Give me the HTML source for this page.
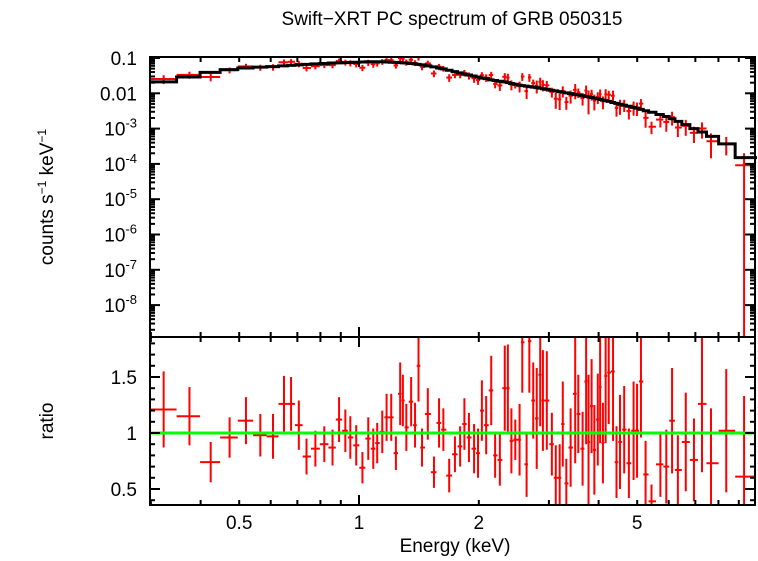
<!DOCTYPE html>
<html><head><meta charset="utf-8"><style>
html,body{margin:0;padding:0;background:#fff;}
svg text{font-family:"Liberation Sans",sans-serif;fill:#000;}
</style></head><body>
<svg id="chart" width="758" height="556" viewBox="0 0 758 556" xmlns="http://www.w3.org/2000/svg">
<text x="452" y="25" font-size="19" text-anchor="middle">Swift−XRT PC spectrum of GRB 050315</text>
<g id="topPanel"></g>
<g id="botPanel"></g>
<text transform="translate(53,197) rotate(-90)" font-size="19" text-anchor="middle">counts s<tspan font-size="12" dy="-7">−1</tspan><tspan dy="7"> keV</tspan><tspan font-size="12" dy="-7">−1</tspan></text>
<text transform="translate(53,421) rotate(-90)" font-size="19" text-anchor="middle">ratio</text>
<text x="455" y="552" font-size="19" text-anchor="middle">Energy (keV)</text>
</svg>
<script>
const energies=[0.323,0.375,0.424,0.473,0.52,0.565,0.608,0.648,0.675,0.706,0.738,0.777,0.818,0.858,0.891,0.924,0.951,0.984,1.02,1.055,1.086,1.111,1.144,1.173,1.205,1.238,1.269,1.289,1.315,1.352,1.383,1.411,1.44,1.489,1.543,1.589,1.629,1.685,1.742,1.795,1.84,1.889,1.946,1.991,2.036,2.087,2.149,2.198,2.259,2.324,2.366,2.415,2.47,2.532,2.572,2.637,2.679,2.74,2.796,2.853,2.898,2.964,3.052,3.122,3.193,3.251,3.318,3.402,3.493,3.556,3.646,3.721,3.773,3.841,3.902,3.981,4.035,4.101,4.166,4.241,4.348,4.436,4.527,4.638,4.765,4.897,4.996,5.11,5.249,5.432,5.718,5.917,6.118,6.327,6.623,6.944,7.274,7.663,8.37,9.28];
const ratios=[1.21,1.15,0.74,0.96,1.11,0.98,0.97,1.26,1.26,1.07,0.79,0.86,0.9,0.87,1.12,1.02,0.96,0.89,0.69,0.95,0.86,0.91,1.01,1.14,1.14,0.82,1.35,1.29,1.05,1.28,1.07,1.6,0.87,1.17,0.65,1.09,1.03,0.62,0.81,0.88,1.08,0.96,0.86,0.82,1.2,1.07,1.38,0.8,0.76,1.4,1.4,0.93,0.94,0.94,1.81,0.72,1.82,1.29,1.13,1.52,1.29,1.29,0.9,0.6,0.6,1.08,0.55,0.87,1.35,1.17,0.86,1.46,0.92,1.24,0.85,1.12,1.41,0.91,1.51,1.54,1.55,0.74,0.92,1.03,0.73,1.02,1.02,1.46,0.63,0.39,0.72,0.7,1.11,0.67,0.92,0.76,1.26,0.73,1.02,0.61];
const ratioErrs=[0.34,0.26,0.18,0.18,0.21,0.19,0.2,0.25,0.24,0.22,0.16,0.16,0.16,0.16,0.2,0.19,0.19,0.18,0.14,0.19,0.18,0.18,0.19,0.21,0.21,0.15,0.28,0.23,0.21,0.22,0.2,0.32,0.17,0.23,0.14,0.22,0.19,0.15,0.16,0.18,0.23,0.22,0.22,0.22,0.27,0.26,0.31,0.2,0.23,0.38,0.39,0.29,0.18,0.32,0.45,0.29,0.46,0.34,0.45,0.46,0.45,0.44,0.28,0.29,0.3,0.38,0.22,0.35,0.62,0.35,0.33,0.56,0.6,0.42,0.4,0.41,0.5,0.36,0.6,0.46,0.62,0.32,0.42,0.39,0.31,0.44,0.42,0.5,0.3,0.15,0.29,0.33,0.47,0.31,0.44,0.37,0.61,0.49,0.55,0.72];
const modelValues=[0.021,0.029,0.039,0.047,0.052,0.055,0.057,0.06,0.062,0.064,0.066,0.068,0.07,0.072,0.073,0.074,0.075,0.076,0.077,0.078,0.078,0.078,0.078,0.077,0.076,0.075,0.074,0.073,0.072,0.07,0.068,0.066,0.064,0.06,0.056,0.052,0.049,0.045,0.041,0.038,0.035,0.033,0.031,0.029,0.027,0.026,0.024,0.023,0.022,0.021,0.02,0.019,0.018,0.017,0.0165,0.016,0.0155,0.015,0.0145,0.014,0.0135,0.013,0.0122,0.0117,0.0112,0.0108,0.0103,0.0098,0.0093,0.009,0.0085,0.0082,0.0079,0.0076,0.0073,0.007,0.0067,0.0064,0.0062,0.0059,0.0055,0.0052,0.0049,0.0046,0.0043,0.004,0.0038,0.0035,0.0032,0.0029,0.0025,0.0022,0.0019,0.0016,0.0013,0.001,0.0008,0.0006,0.00037,0.00015];
const xTickLabels=[0.5,1,2,5];
const yTopTickLabels=["0.1","0.01","10<sup>-3</sup>","10<sup>-4</sup>","10<sup>-5</sup>","10<sup>-6</sup>","10<sup>-7</sup>","10<sup>-8</sup>"];
const yTopTickExps=[-1,-2,-3,-4,-5,-6,-7,-8];
const yBotTickLabels=[0.5,1,1.5];

const NS="http://www.w3.org/2000/svg";
const L=150,R=755,T1=57,B1=337,B2=505;
const xScale=e=>359+398*Math.log10(e);
const yTop=v=>58-35.3*(Math.log10(v)+1);
const yBot=r=>433-112*(r-1);
const clampT=y=>Math.max(T1,Math.min(B1,y));
const clampB=y=>Math.max(B1,Math.min(B2,y));
function mk(parent,tag,attrs){const el=document.createElementNS(NS,tag);for(const k in attrs)el.setAttribute(k,attrs[k]);parent.appendChild(el);return el;}
const topG=document.getElementById('topPanel'),botG=document.getElementById('botPanel');
const edges=[0.3];
for(let i=0;i<energies.length-1;i++)edges.push(Math.sqrt(energies[i]*energies[i+1]));
edges.push(10);

let d='';
for(let i=0;i<energies.length;i++){const y=yTop(modelValues[i]);d+=(i===0?'M':'L')+xScale(edges[i])+','+y+'L'+xScale(edges[i+1])+','+y;}
for(let i=0;i<energies.length;i++){
  const x=xScale(energies[i]),x0=Math.max(L,xScale(edges[i])),x1=Math.min(R,xScale(edges[i+1]));
  const m=modelValues[i],r=ratios[i],e=ratioErrs[i];
  const yc=clampT(yTop(m*r)),ylo=(r-e)>0?clampT(yTop(m*(r-e))):B1,yhi=clampT(yTop(m*(r+e)));
  const g=mk(topG,'g',{stroke:'#ff0000','stroke-width':2});
  
  
  mk(g,'line',{x1:x0,x2:x1,y1:yc,y2:yc});mk(g,'line',{x1:x,x2:x,y1:yhi,y2:ylo});
  const by=yBot(r);
  const g2=mk(botG,'g',{stroke:'#ff0000','stroke-width':2});
  
  
  if(by>=B1&&by<=B2)mk(g2,'line',{x1:x0,x2:x1,y1:by,y2:by});
  mk(g2,'line',{x1:x,x2:x,y1:clampB(yBot(r+e)),y2:clampB(yBot(r-e))});
}
const model=mk(topG,'path',{d:d,fill:'none',stroke:'#000','stroke-width':3});


const unity=mk(botG,'line',{x1:L,x2:R,y1:yBot(1),y2:yBot(1),stroke:'#00ff00','stroke-width':3});



for(const [g,t,b] of [[topG,T1,B1],[botG,B1,B2]]){
  const f=mk(g,'rect',{x:L,y:t,width:R-L,height:b-t,fill:'none',stroke:'#000','stroke-width':2});
  
  
}
const xt=[0.3,0.4,0.5,0.6,0.7,0.8,0.9,1,2,3,4,5,6,7,8,9];
for(const v of xt){const x=xScale(v),len=(v===1)?10:5;
  for(const [g,t,b] of [[topG,T1,B1],[botG,B1,B2]]){
    mk(g,'line',{x1:x,x2:x,y1:t,y2:t+len,stroke:'#000','stroke-width':2});
    mk(g,'line',{x1:x,x2:x,y1:b,y2:b-len,stroke:'#000','stroke-width':2});
  }}
for(const v of xTickLabels){const t=mk(botG,'text',{x:xScale(v),y:529,'font-size':19,'text-anchor':'middle'});t.textContent=String(v);
  
  }
for(let ex=-9;ex<=-1;ex++){for(let k=1;k<10;k++){const v=k*Math.pow(10,ex),y=yTop(v);if(y<T1||y>B1)continue;const len=k===1?10:5;
  mk(topG,'line',{x1:L,x2:L+len,y1:y,y2:y,stroke:'#000','stroke-width':2});mk(topG,'line',{x1:R,x2:R-len,y1:y,y2:y,stroke:'#000','stroke-width':2});}}
yTopTickExps.forEach((ex,i)=>{const y=yTop(Math.pow(10,ex))+7;const t=mk(topG,'text',{x:137,y:y,'font-size':19,'text-anchor':'end'});
  
  
  const lab=yTopTickLabels[i];
  if(lab.indexOf('<sup>')<0){t.textContent=lab;}else{const p=lab.split('<sup>');const a=document.createElementNS(NS,'tspan');a.textContent=p[0];t.appendChild(a);const s=document.createElementNS(NS,'tspan');s.setAttribute('font-size','13');s.setAttribute('dy','-8');s.textContent=p[1].replace('</sup>','');t.appendChild(s);}
});
for(let r=4;r<=18;r++){const v=r/10,y=yBot(v);if(y<B1||y>B2)continue;const len=(r%5===0)?10:5;
  mk(botG,'line',{x1:L,x2:L+len,y1:y,y2:y,stroke:'#000','stroke-width':2});mk(botG,'line',{x1:R,x2:R-len,y1:y,y2:y,stroke:'#000','stroke-width':2});}
for(const v of yBotTickLabels){const t=mk(botG,'text',{x:137,y:yBot(v)+7,'font-size':19,'text-anchor':'end'});t.textContent=String(v);
  
  }
</script>
</body></html>
